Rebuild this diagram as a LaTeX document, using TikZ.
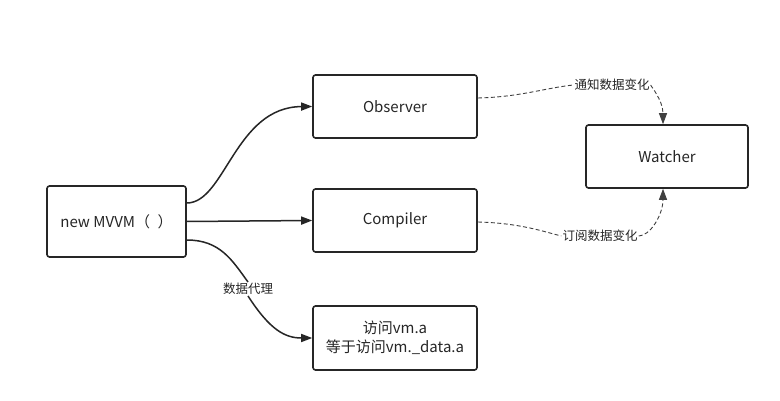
\documentclass[tikz,border=0pt]{standalone}
\usepackage{fontspec}
\setmainfont{Noto Sans CJK SC}
\usetikzlibrary{arrows.meta}
\begin{document}
\begin{tikzpicture}[x=1pt,y=-1pt,
  box/.style={draw=black!85,line width=1.6pt,rounded corners=2.5pt,inner sep=0pt,font=\fontsize{15}{19}\selectfont,text=black!85,align=center},
  lbl/.style={font=\fontsize{12.5}{15}\selectfont,text=black!85,inner sep=1pt},
  conn/.style={draw=black!85,line width=1.5pt},
  tip/.style={-{Triangle[length=11pt,width=8pt]}},
  dconn/.style={draw=black!75,line width=0.9pt,dash pattern=on 4pt off 2.5pt}]
\useasboundingbox[fill=white] (0,0) rectangle (780,401);
\node[box,minimum width=139pt,minimum height=71pt] (mvvm) at (116.5,221.5) {new MVVM（\enspace）};
\node[box,minimum width=164pt,minimum height=63pt] (obs) at (395,106.5) {Observer};
\node[box,minimum width=164pt,minimum height=63pt] (comp) at (395,220.5) {Compiler};
\node[box,minimum width=164pt,minimum height=64pt] (acc) at (395,338) {访问vm.a\\等于访问vm.\_data.a};
\node[box,minimum width=162pt,minimum height=63pt] (watch) at (667,156.5) {Watcher};
\node[lbl] (l1) at (612,85) {通知数据变化};
\node[lbl] (l2) at (600,236) {订阅数据变化};
\node[lbl] (l3) at (248,289) {数据代理};
\coordinate (m1) at ([yshift=18.5pt]mvvm.east);
\coordinate (m3) at ([yshift=-18.5pt]mvvm.east);
\coordinate (o1) at ([yshift=8.5pt]obs.east);
\coordinate (c1) at ([yshift=-1.5pt]comp.east);
\coordinate (wt) at ([xshift=-4pt]watch.north);
\coordinate (wb) at ([xshift=-4pt]watch.south);
\draw[conn,tip] (m1) .. controls (225,203) and (235,107) .. (obs.west);
\draw[conn,tip] (mvvm.east) -- (comp.west);
\draw[conn] (m3) .. controls (220,240) and (232,260) .. (l3.north);
\draw[conn,tip] (l3.south) .. controls (270,330) and (285,338) .. (acc.west);
\draw[dconn] (o1) .. controls (520,97) and (545,88) .. (l1.west);
\draw[dconn,tip] (l1.east) .. controls (650,85) and (663,100) .. (wt);
\draw[dconn] (c1) .. controls (520,223) and (545,232) .. (l2.west);
\draw[dconn,tip] (l2.east) .. controls (650,236) and (663,215) .. (wb);
\end{tikzpicture}
\end{document}
